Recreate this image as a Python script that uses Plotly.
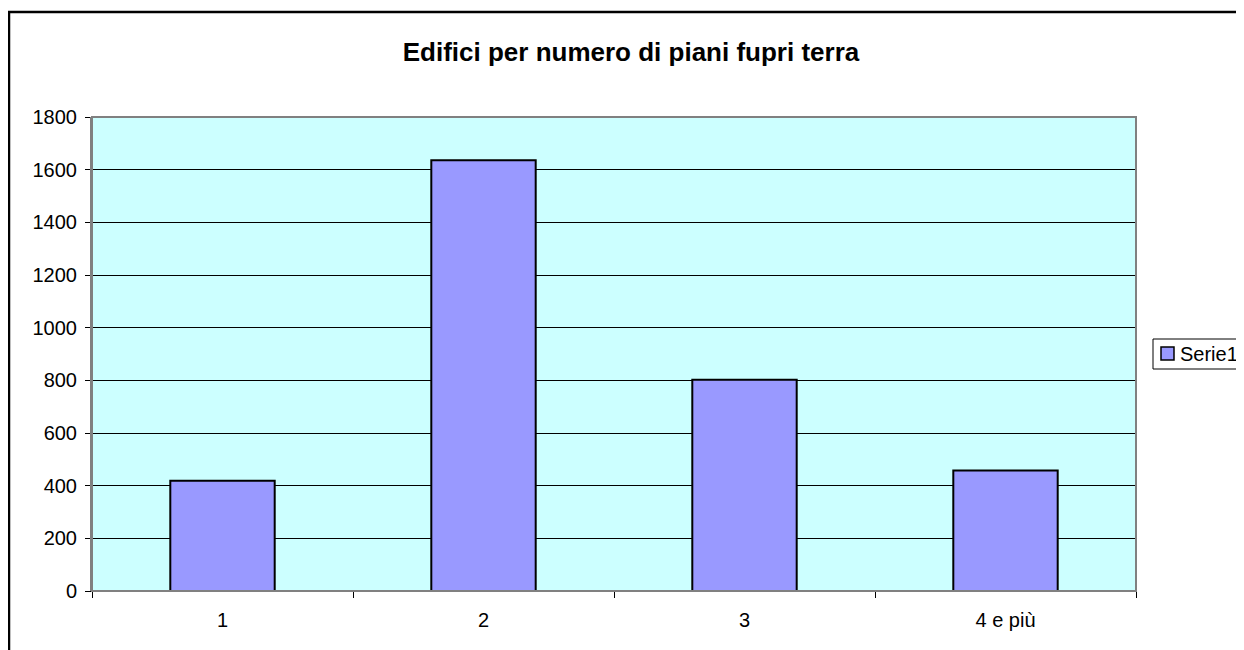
import plotly.graph_objects as go

categories = ["1", "2", "3", "4 e più"]
values = [419, 1636, 802, 458]
series_name = "Serie1"
title_text = "Edifici per numero di piani fupri terra"
y_ticks = [0, 200, 400, 600, 800, 1000, 1200, 1400, 1600, 1800]
bar_color = "#9999FF"

fig = go.Figure()
fig.add_trace(go.Bar(
    x=categories, y=values, name=series_name,
    marker=dict(color=bar_color, line=dict(color="black", width=2)),
    showlegend=False,
))

# page has an 8px body margin; figure placed at (8, 8)
OFF = 8
W, H = 1244 - OFF, 650 - OFF
L, R, T, B = 92 - OFF, 108, 117 - OFF, 59
pw, ph = W - L - R, H - T - B

def px(x):
    return (x - OFF - L) / pw

def py(y):
    return (H - B - (y - OFF)) / ph

fig.update_layout(
    width=W, height=H,
    margin=dict(l=L, r=R, t=T, b=B, autoexpand=False),
    paper_bgcolor="white",
    plot_bgcolor="#CCFFFF",
    font=dict(family="Liberation Sans, Arial, sans-serif", size=20, color="black"),
    title=dict(text="<b>" + title_text + "</b>", x=(631 - OFF) / W, xref="container",
               y=1 - (52 - OFF) / H, yref="container", yanchor="middle", xanchor="center",
               font=dict(size=26, color="black")),
    bargap=0.6,
    showlegend=False,
    xaxis=dict(showgrid=False, ticks="outside", tickson="boundaries", ticklen=6,
               tickcolor="black", showline=True, linecolor="black", linewidth=1,
               tickfont=dict(size=20), ticklabelstandoff=11, fixedrange=True),
    yaxis=dict(range=[0, 1800], tickvals=y_ticks, showgrid=True, gridcolor="black",
               gridwidth=1, ticks="outside", ticklen=5, tickcolor="black",
               showline=True, linecolor="#808080", linewidth=2, zeroline=False,
               tickfont=dict(size=20), ticklabelstandoff=4, fixedrange=True),
    shapes=[
        # plot area border
        dict(type="rect", xref="paper", yref="paper", x0=0, x1=1, y0=0, y1=1,
             line=dict(color="#808080", width=2), fillcolor="rgba(0,0,0,0)", layer="above"),
        # outer chart border
        dict(type="rect", xref="paper", yref="paper", x0=px(9), x1=px(1300),
             y0=py(700), y1=py(12), line=dict(color="black", width=2.5),
             fillcolor="rgba(0,0,0,0)", layer="below"),
        # legend box
        dict(type="rect", xref="paper", yref="paper", x0=px(1153), x1=px(1240),
             y0=py(369), y1=py(339), line=dict(color="black", width=1),
             fillcolor="white", layer="above"),
        # legend swatch
        dict(type="rect", xref="paper", yref="paper", x0=px(1161), x1=px(1174),
             y0=py(360), y1=py(347), line=dict(color="black", width=1.5),
             fillcolor=bar_color, layer="above"),
    ],
    annotations=[
        dict(text=series_name, xref="paper", yref="paper", x=px(1178), y=py(354),
             xanchor="left", yanchor="middle", showarrow=False,
             font=dict(size=20, color="black")),
    ],
)

fig.write_html("out.html")
